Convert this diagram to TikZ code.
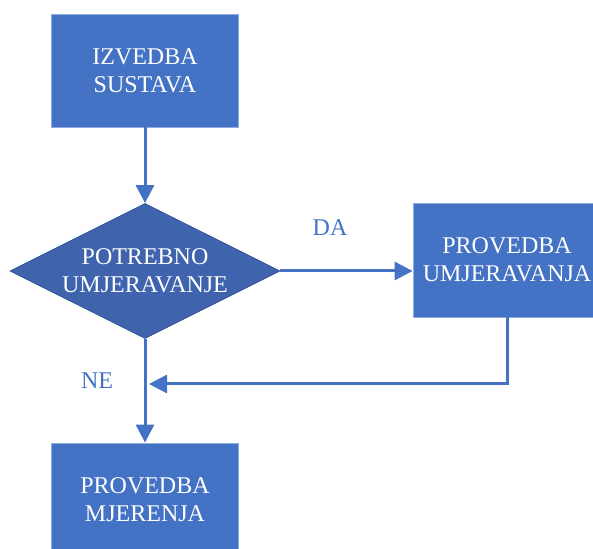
\documentclass[tikz,border=0pt]{standalone}
\usepackage{fontspec}
\setmainfont{Liberation Serif}
\usepackage{xcolor}
\definecolor{flblue}{RGB}{68,114,196}
\definecolor{fldark}{RGB}{63,100,173}
\definecolor{fledge}{RGB}{47,82,143}
\usetikzlibrary{arrows.meta,positioning,shapes.geometric}

\begin{document}
\begin{tikzpicture}[
  x=0.5pt, y=-0.5pt,
  every node/.style={font=\fontsize{12pt}{14pt}\selectfont},
  procbox/.style={draw=flblue!60!white,line width=0.4pt,fill=flblue,
                  minimum width=93.5pt,minimum height=56.5pt,
                  align=center,text=white,inner sep=0pt},
  decision/.style={diamond,aspect=2,draw=fledge,line width=0.4pt,fill=fldark,
                   minimum width=135pt,minimum height=67.5pt,
                   align=center,text=white,inner sep=0pt},
  answer/.style={text=flblue},
  arr/.style={-{Triangle[width=9pt,length=9pt]},line width=1.5pt,flblue},
]
  \useasboundingbox (0,0) rectangle (593,549);

  % Blocks
  \node[procbox] (izvedba) at (145,70.5) {IZVEDBA\\SUSTAVA};
  \node[decision] (potrebno) at (145,271) {POTREBNO\\UMJERAVANJE};
  \node[procbox,minimum width=94pt,minimum height=57pt] (provU) at (507,260)
    {PROVEDBA\\UMJERAVANJA};
  \node[procbox] (provM) at (145,499.5) {PROVEDBA\\MJERENJA};

  % Labels
  \node[answer] (da) at (330,228) {DA};
  \node[answer] (ne) at (97,381) {NE};

  % Arrows
  \coordinate (merge) at (149,384);
  \draw[arr] (izvedba) -- (potrebno);
  \draw[arr] (potrebno.east) -- (potrebno.east -| provU.west);
  \draw[arr] (potrebno) -- (provM);
  \draw[arr] (provU.south) |- (merge);
\end{tikzpicture}
\end{document}
